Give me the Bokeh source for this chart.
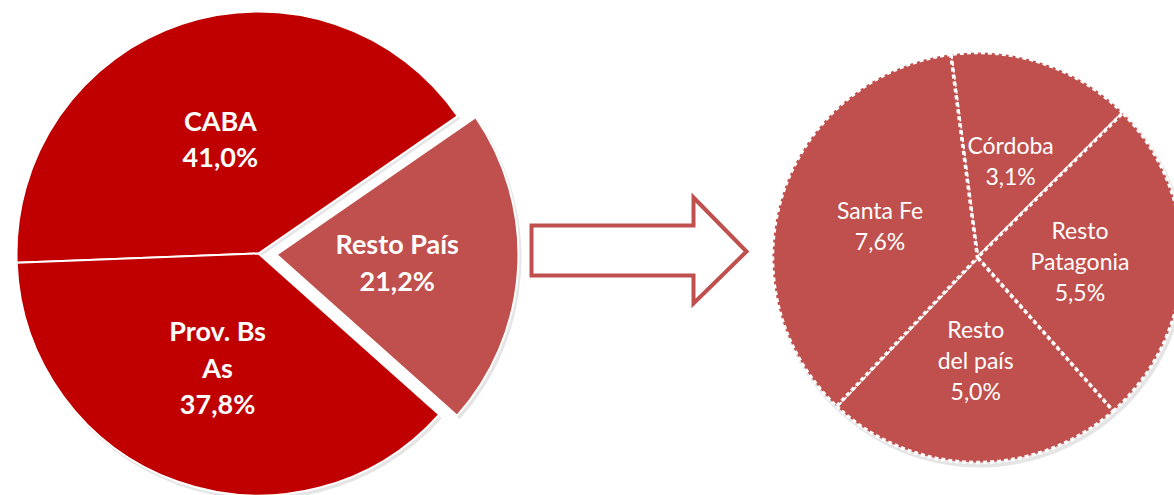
import numpy as np
from bokeh.plotting import figure
from bokeh.models import Range1d, ColumnDataSource
from bokeh.embed import file_html
from bokeh.resources import INLINE
from bokeh.core.properties import value

# ---- data ----
main_labels = ["CABA", "Resto País", "Prov. Bs\nAs"]
main_values = [41.0, 21.2, 37.8]
main_pct = ["41,0%", "21,2%", "37,8%"]
main_colors = ["#C00000", "#C0504D", "#C00000"]
main_explode = [0, 18, 0]

sub_labels = ["Córdoba", "Resto\nPatagonia", "Resto\ndel país", "Santa Fe"]
sub_values = [3.1, 5.5, 5.0, 7.6]
sub_pct = ["3,1%", "5,5%", "5,0%", "7,6%"]
sub_color = "#C0504D"

W, H = 1174, 495
p = figure(width=W, height=H, x_range=Range1d(0, W), y_range=Range1d(0, H),
           output_backend="svg", toolbar_location=None, min_border=0)
p.axis.visible = False
p.grid.visible = False
p.outline_line_color = None
p.background_fill_color = "white"


def slices(vals, start_deg):
    v = np.array(vals, dtype=float)
    frac = v / v.sum()
    cum = np.concatenate([[0.0], np.cumsum(frac)])
    s0 = np.deg2rad(start_deg)
    hi = s0 - cum[:-1] * 2 * np.pi
    lo = s0 - cum[1:] * 2 * np.pi
    return lo, hi, (lo + hi) / 2


# ---- main pie ----
cx, cy, r = 258, 242, 242
lo, hi, mid = slices(main_values, 182.2)
ex = np.array(main_explode, dtype=float)
xs = cx + ex * np.cos(mid)
ys = cy + ex * np.sin(mid)
src = ColumnDataSource(dict(x=xs, y=ys, sxo=xs + 2, syo=ys - 3, lo=lo, hi=hi, color=main_colors,
                            lx=xs + 0.5 * r * np.cos(mid), ly=ys + 0.5 * r * np.sin(mid),
                            txt=[l + "\n" + t for l, t in zip(main_labels, main_pct)]))
# soft shadow
p.wedge(x="sxo", y="syo", radius=r + 1, start_angle="lo", end_angle="hi", source=src,
        fill_color="#000000", fill_alpha=0.10, line_color=None, direction="anticlock")
p.wedge(x="x", y="y", radius=r, start_angle="lo", end_angle="hi", source=src,
        fill_color="color", line_color="white", line_width=2, direction="anticlock")
p.text(x="lx", y="ly", text="txt", source=src, text_align="center", text_baseline="middle",
       text_font=value("Lato"), text_font_style="bold", text_font_size="27px",
       text_color="white", text_line_height=1.11)

# ---- arrow ----
ax = [531, 693, 693, 746, 693, 693, 531]
ay = [270, 270, 298, 244, 192, 220, 220]
p.patch(x=ax, y=ay, fill_color="white", line_color="#C0504D", line_width=4, line_join="miter")

# ---- sub pie ----
sx, sy, sr = 977, 238, 205
lo2, hi2, mid2 = slices(sub_values, 97.5)
src2 = ColumnDataSource(dict(lo=lo2, hi=hi2,
                             lx=sx + 0.5 * sr * np.cos(mid2), ly=sy + 0.5 * sr * np.sin(mid2),
                             txt=[l + "\n" + t for l, t in zip(sub_labels, sub_pct)]))
p.circle(x=[sx + 2], y=[sy - 3], radius=sr + 2, fill_color="#000000", fill_alpha=0.10,
         line_color=None)
p.wedge(x=sx, y=sy, radius=sr, start_angle="lo", end_angle="hi", source=src2,
        fill_color=sub_color, line_color="white", line_width=3.5, line_dash="4 3",
        direction="anticlock")
p.text(x="lx", y="ly", text="txt", source=src2, text_align="center", text_baseline="middle",
       text_font=value("Lato"), text_font_size="23px", text_color="white",
       text_line_height=1.1)

open("out.html", "w").write(file_html(p, INLINE))
